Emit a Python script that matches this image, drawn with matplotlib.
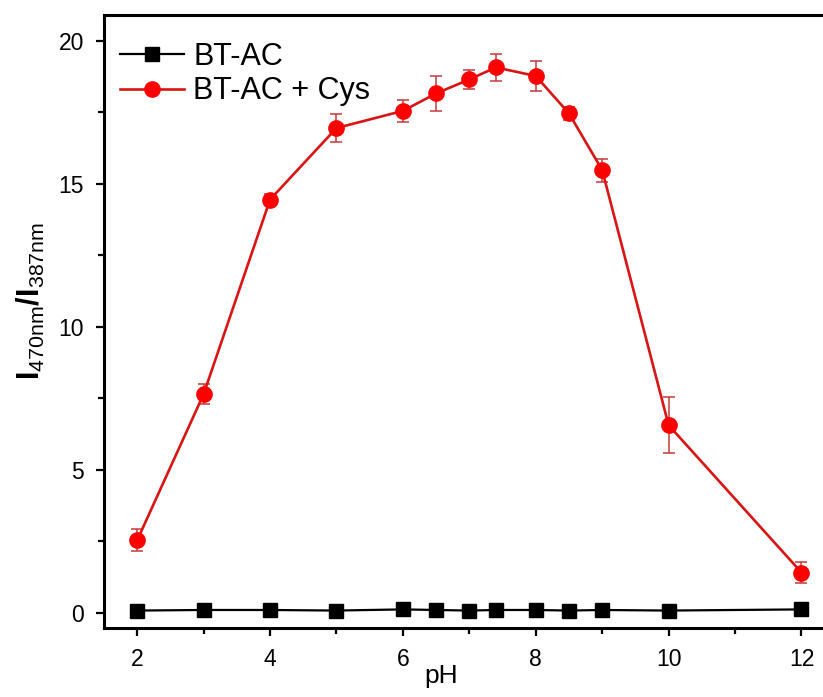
import matplotlib
matplotlib.use("Agg")
import matplotlib.pyplot as plt
from matplotlib.ticker import MultipleLocator

# pH series and ratio readings
ph = [2, 3, 4, 5, 6, 6.5, 7, 7.4, 8, 8.5, 9, 10, 12]
ratio_probe = [0.08, 0.10, 0.10, 0.08, 0.12, 0.10, 0.08, 0.10, 0.10, 0.08, 0.10, 0.08, 0.12]
ratio_cys = [2.54, 7.65, 14.45, 16.95, 17.55, 18.16, 18.65, 19.07, 18.77, 17.46, 15.48, 6.56, 1.41]
ratio_cys_err = [0.38, 0.34, 0.20, 0.48, 0.39, 0.60, 0.34, 0.46, 0.54, 0.23, 0.40, 0.98, 0.36]

label_probe = "BT-AC"
label_cys = "BT-AC + Cys"

plt.rcParams["font.family"] = ["Liberation Sans", "DejaVu Sans"]
plt.rcParams["mathtext.fontset"] = "custom"
plt.rcParams["mathtext.rm"] = "Liberation Sans"
plt.rcParams["mathtext.bf"] = "Liberation Sans:bold"
plt.rcParams["mathtext.it"] = "Liberation Sans:italic"

W, H = 823, 697
fig = plt.figure(figsize=(W / 100, H / 100), dpi=100)

# axes frame in pixel terms (right edge runs past the canvas)
left_px, right_px, bottom_px, top_px = 104, 834.7, 628, 14.5
ax = fig.add_axes([left_px / W, 1 - bottom_px / H,
                   (right_px - left_px) / W, (bottom_px - top_px) / H])

ax.plot(ph, ratio_probe, color="black", lw=1.6, marker="s", ms=9.5,
        mfc="black", mec="black", label=label_probe, zorder=3)
ax.errorbar(ph, ratio_cys, yerr=ratio_cys_err, fmt="none", ecolor="#c43a3a",
            elinewidth=1.1, capsize=4.6, capthick=1.1, zorder=2)
ax.plot(ph, ratio_cys, color="#d81414", lw=1.9, marker="o", ms=11,
        mfc="#ff0000", mec="#ff0000", label=label_cys, zorder=4)

ax.set_xlim(1.5, 12.5)
ax.set_ylim(-0.53, 20.92)

ax.xaxis.set_major_locator(MultipleLocator(2))
ax.xaxis.set_minor_locator(MultipleLocator(1))
ax.yaxis.set_major_locator(MultipleLocator(5))
ax.yaxis.set_minor_locator(MultipleLocator(2.5))

for side in ["left", "bottom", "top"]:
    ax.spines[side].set_linewidth(2.2)
ax.spines["right"].set_visible(False)

ax.tick_params(which="major", direction="out", length=5.5, width=1.6,
               labelsize=16.5, top=False, right=False)
ax.tick_params(axis="x", which="major", pad=9)
ax.tick_params(axis="y", which="major", pad=9)
ax.tick_params(which="minor", direction="out", length=4, width=1.6,
               top=False, right=False)

ax.set_xlabel("pH", fontsize=19)
ax.xaxis.set_label_coords(0.461, -0.058)
ax.set_ylabel(r"$\mathbf{I}_{\mathrm{470nm}}\mathbf{/I}_{\mathrm{387nm}}$", fontsize=22)
ax.yaxis.set_label_coords(-0.078, 0.533)

ax.legend(loc="upper left", bbox_to_anchor=(0.022, 0.955), frameon=False,
          fontsize=22, borderpad=0, borderaxespad=0, handlelength=2.1,
          handletextpad=0.3, labelspacing=0.14)

fig.savefig("out.png", dpi=100)
